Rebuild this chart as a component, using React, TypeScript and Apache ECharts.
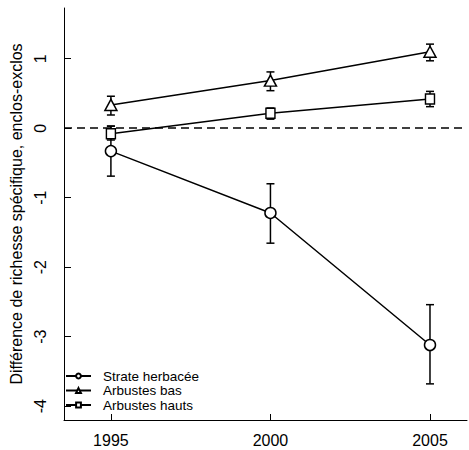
import React, { useEffect, useRef } from "react";
import * as echarts from "echarts";

const years = [1995, 2000, 2005];
const xTicks = [1995, 2000, 2005];
const yTicks = [-4, -3, -2, -1, 0, 1];

const herbMean = [-0.33, -1.22, -3.12];
const herbLow = [-0.69, -1.655, -3.68];
const herbHigh = [0.03, -0.8, -2.54];

const basMean = [0.335, 0.685, 1.1];
const basLow = [0.19, 0.54, 0.97];
const basHigh = [0.46, 0.81, 1.21];

const hautsMean = [-0.08, 0.216, 0.42];
const hautsLow = [-0.17, 0.13, 0.31];
const hautsHigh = [0.03, 0.29, 0.53];

const seriesNames = ["Strate herbacée", "Arbustes bas", "Arbustes hauts"];

const FONT = "'Liberation Sans', Arial, Helvetica, sans-serif";

function errData(low: number[], high: number[]) {
  return years.map((y, i) => [y, low[i], high[i]]);
}

function meanData(m: number[]) {
  return years.map((y, i) => [y, m[i]]);
}

const errRender = (params: any, api: any) => {
  const x = api.value(0);
  const lo = api.coord([x, api.value(1)]);
  const hi = api.coord([x, api.value(2)]);
  const cap = 4;
  const style = { stroke: "#000", lineWidth: 1.5 };
  return {
    type: "group",
    children: [
      { type: "line", shape: { x1: lo[0], y1: lo[1], x2: hi[0], y2: hi[1] }, style },
      { type: "line", shape: { x1: lo[0] - cap, y1: lo[1], x2: lo[0] + cap, y2: lo[1] }, style },
      { type: "line", shape: { x1: hi[0] - cap, y1: hi[1], x2: hi[0] + cap, y2: hi[1] }, style },
    ],
  };
};

export default function App() {
  const ref = useRef<HTMLDivElement>(null);
  useEffect(() => {
    if (!ref.current) return;
    const chart = echarts.init(ref.current, undefined, { renderer: "svg" });
    const lineSeries = (name: string, data: number[], symbol: string, size: any) => ({
      name,
      type: "line",
      data: meanData(data),
      symbol,
      symbolSize: size,
      showSymbol: true,
      color: "#000",
      lineStyle: { color: "#000", width: 1.5 },
      itemStyle: { color: "#fff", borderColor: "#000", borderWidth: 1.5 },
      z: 5,
    });
    const errSeries = (low: number[], high: number[]) => ({
      type: "custom",
      renderItem: errRender,
      data: errData(low, high),
      z: 3,
      silent: true,
    });
    chart.setOption({
      animation: false,
      textStyle: { fontFamily: FONT },
      grid: { left: 64, right: 2, top: 8, bottom: 30, containLabel: false },
      legend: {
        orient: "vertical",
        left: 65,
        top: 369,
        padding: 0,
        itemGap: 0.5,
        itemWidth: 25,
        itemHeight: 6,
        data: seriesNames,
        textStyle: { fontSize: 13.5, color: "#000", fontFamily: FONT, lineHeight: 13.5, padding: [0, 0, 0, 7] },
      },
      xAxis: {
        type: "value",
        min: 1993.53,
        max: 2006.16,
        axisLine: { show: true, onZero: false, lineStyle: { color: "#000", width: 1 } },
        axisTick: { show: true, inside: true, length: 6, lineStyle: { color: "#000" }, customValues: xTicks },
        axisLabel: {
          customValues: xTicks,
          fontSize: 16,
          color: "#000",
          margin: 12,
          fontFamily: FONT,
          formatter: (v: number) => String(v),
        },
        splitLine: { show: false },
      },
      yAxis: {
        type: "value",
        min: -4.2,
        max: 1.73,
        name: "Différence de richesse spécifique, enclos-exclos",
        nameLocation: "middle",
        nameGap: 38,
        nameTextStyle: { fontSize: 16, color: "#000", fontFamily: FONT },
        axisLine: { show: true, onZero: false, lineStyle: { color: "#000", width: 1 } },
        axisTick: { show: true, inside: true, length: 7, lineStyle: { color: "#000" }, customValues: yTicks },
        axisLabel: {
          customValues: yTicks,
          fontSize: 16,
          color: "#000",
          rotate: 90,
          margin: 16,
          fontFamily: FONT,
          formatter: (v: number) => String(v),
        },
        splitLine: { show: false },
      },
      series: [
        errSeries(herbLow, herbHigh),
        errSeries(basLow, basHigh),
        errSeries(hautsLow, hautsHigh),
        {
          ...lineSeries(seriesNames[0], herbMean, "circle", 11),
          markLine: {
            silent: true,
            symbol: "none",
            label: { show: false },
            lineStyle: { color: "#000", type: [8, 5], width: 1.5 },
            data: [{ yAxis: 0 }],
          },
        },
        lineSeries(seriesNames[1], basMean, "triangle", [12, 11]),
        lineSeries(seriesNames[2], hautsMean, "rect", [9, 10]),
      ],
    });
    return () => chart.dispose();
  }, []);
  return <div ref={ref} style={{ width: 469, height: 450, position: "absolute", left: 0, top: 0 }} />;
}
